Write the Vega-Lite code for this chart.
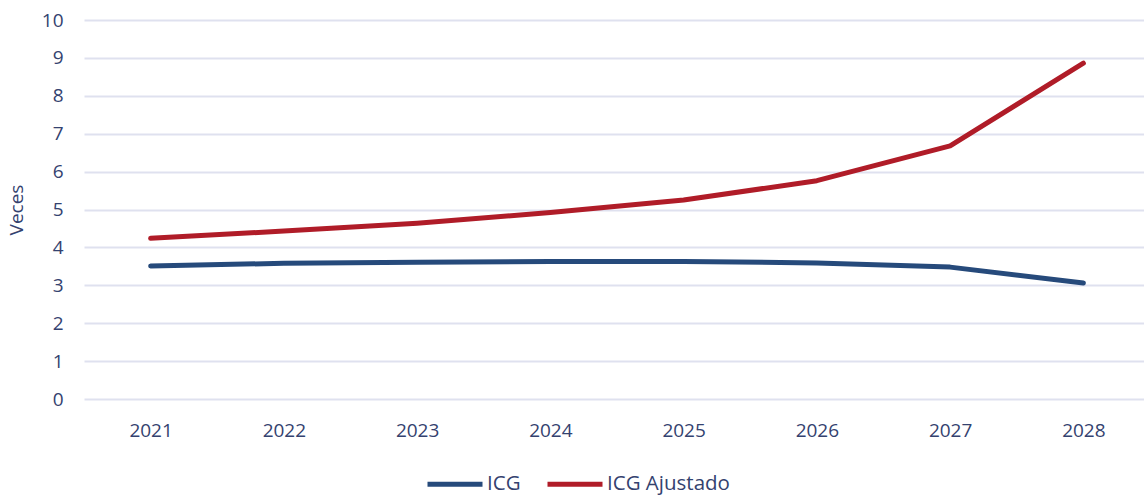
{
  "$schema": "https://vega.github.io/schema/vega-lite/v6.json",
  "autosize": "none",
  "width": 1060,
  "height": 379,
  "padding": {"left": 84, "top": 20, "right": 0, "bottom": 97},
  "background": "white",
  "config": {
    "font": "Open Sans",
    "view": {"stroke": null},
    "axis": {"labelColor": "#34426f", "titleColor": "#34426f", "labelFontSize": 19, "titleFontSize": 19, "titleFontWeight": "normal"}
  },
  "data": {
    "values": [
      {"year": "2021", "serie": "ICG", "value": 3.51},
      {"year": "2022", "serie": "ICG", "value": 3.58},
      {"year": "2023", "serie": "ICG", "value": 3.61},
      {"year": "2024", "serie": "ICG", "value": 3.63},
      {"year": "2025", "serie": "ICG", "value": 3.63},
      {"year": "2026", "serie": "ICG", "value": 3.59},
      {"year": "2027", "serie": "ICG", "value": 3.48},
      {"year": "2028", "serie": "ICG", "value": 3.06},
      {"year": "2021", "serie": "ICG Ajustado", "value": 4.24},
      {"year": "2022", "serie": "ICG Ajustado", "value": 4.43},
      {"year": "2023", "serie": "ICG Ajustado", "value": 4.64},
      {"year": "2024", "serie": "ICG Ajustado", "value": 4.92},
      {"year": "2025", "serie": "ICG Ajustado", "value": 5.25},
      {"year": "2026", "serie": "ICG Ajustado", "value": 5.76},
      {"year": "2027", "serie": "ICG Ajustado", "value": 6.68},
      {"year": "2028", "serie": "ICG Ajustado", "value": 8.86}
    ]
  },
  "mark": {"type": "line", "strokeWidth": 5, "strokeCap": "round", "strokeJoin": "round"},
  "encoding": {
    "x": {
      "field": "year", "type": "ordinal",
      "scale": {"type": "point", "padding": 0.5, "range": [0, 1066]},
      "axis": {"title": null, "labelAngle": 0, "domain": false, "ticks": false, "grid": false, "labelPadding": 22}
    },
    "y": {
      "field": "value", "type": "quantitative",
      "scale": {"domain": [0, 10], "nice": false},
      "axis": {"title": "Veces", "values": [0,1,2,3,4,5,6,7,8,9,10], "domain": false, "ticks": false, "grid": true, "gridColor": "#dfe1ef", "gridWidth": 2, "labelPadding": 21, "titlePadding": 15}
    },
    "color": {
      "field": "serie", "type": "nominal",
      "scale": {"domain": ["ICG", "ICG Ajustado"], "range": ["#264a7b", "#b01c28"]},
      "legend": {
        "title": null, "orient": "none", "legendX": 341, "legendY": 434, "direction": "horizontal",
        "symbolType": "stroke", "symbolSize": 3025, "symbolStrokeWidth": 5,
        "labelFontSize": 20.5, "labelColor": "#34426f", "labelOffset": 2, "columnPadding": 16
      }
    }
  }
}
